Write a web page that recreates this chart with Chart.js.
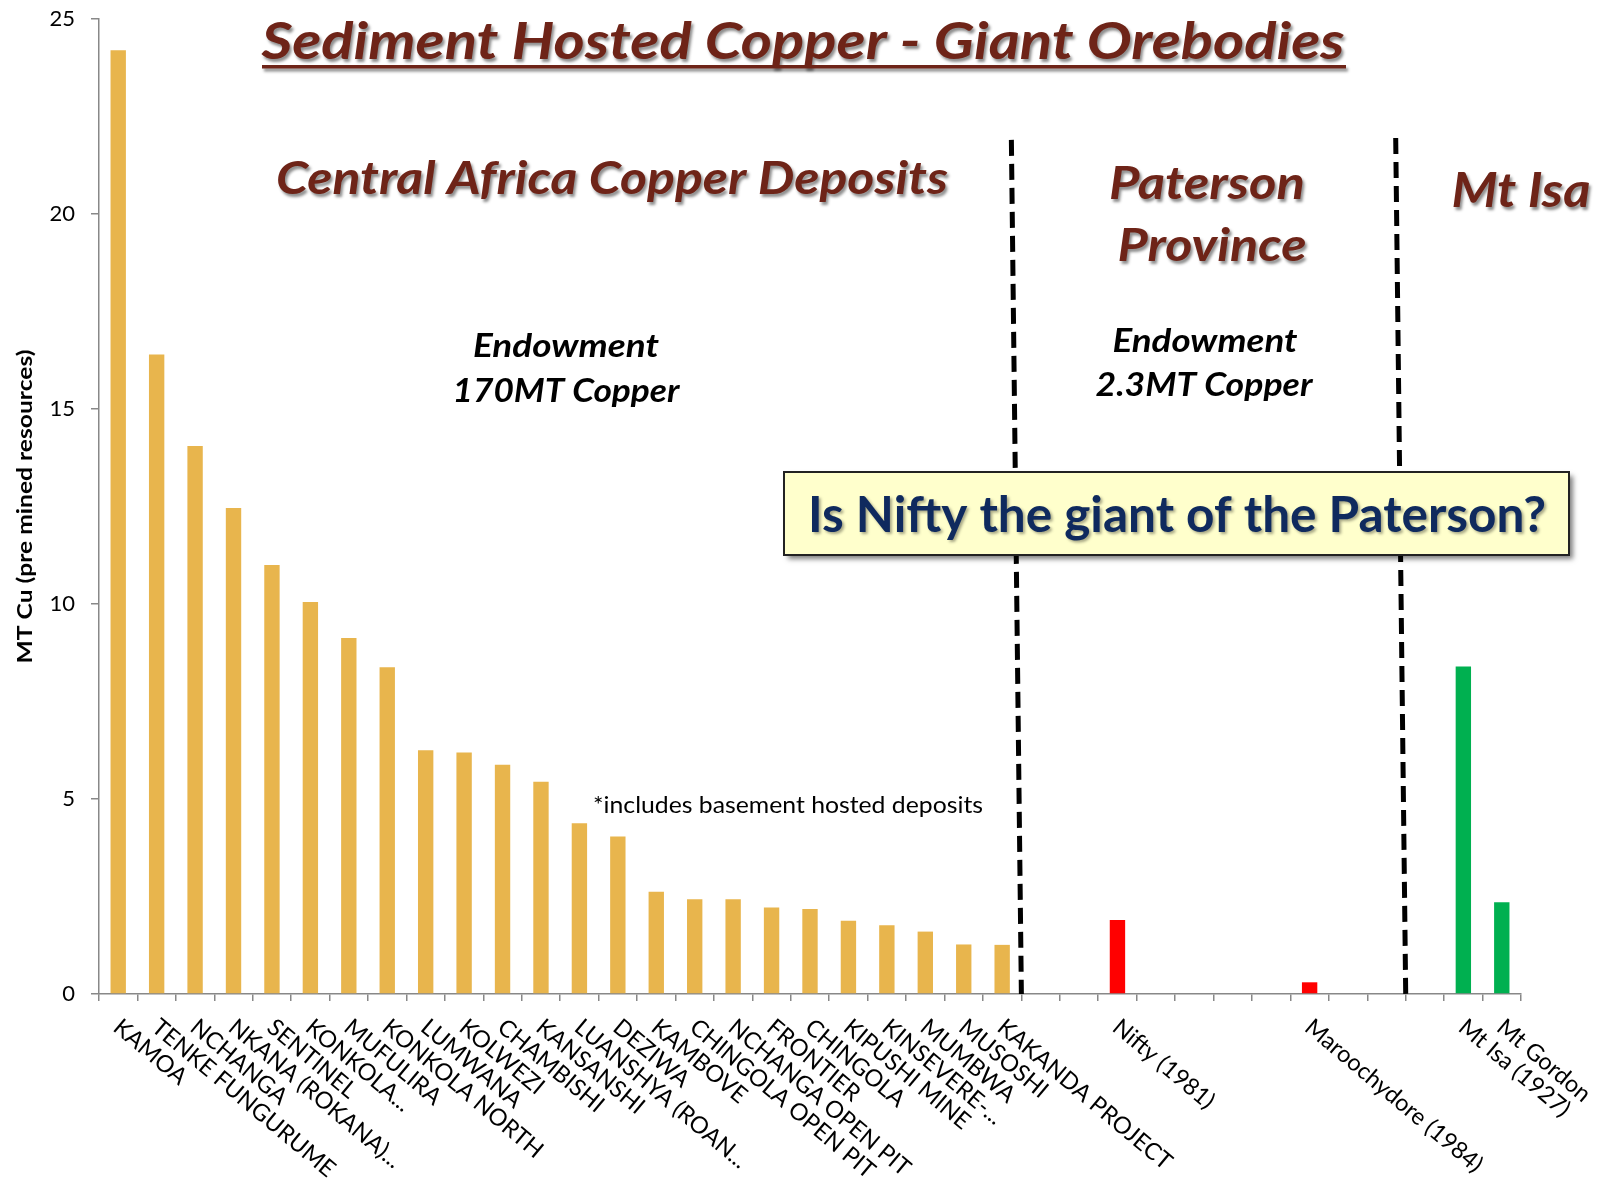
<!DOCTYPE html>
<html>
<head>
<meta charset="utf-8">
<script src="https://cdn.jsdelivr.net/npm/chart.js@4/dist/chart.umd.min.js"></script>
<style>
  html, body { margin: 0; padding: 0; background: #fff; }
</style>
</head>
<body>
<canvas id="chart" width="1603" height="1185"></canvas>
<script>
// one slot per category, '' = empty gap between the regions
const deposits = [
  "KAMOA", "TENKE FUNGURUME", "NCHANGA", "NKANA (ROKANA)...", "SENTINEL", "KONKOLA...",
  "MUFULIRA", "KONKOLA NORTH", "LUMWANA", "KOLWEZI", "CHAMBISHI", "KANSANSHI",
  "LUANSHYA (ROAN...", "DEZIWA", "KAMBOVE", "CHINGOLA OPEN PIT", "NCHANGA OPEN PIT", "FRONTIER",
  "CHINGOLA", "KIPUSHI MINE", "KINSEVERE-...", "MUMBWA", "MUSOSHI", "KAKANDA PROJECT",
  "", "", "Nifty (1981)", "", "", "", "", "Maroochydore (1984)", "", "", "", "Mt Isa (1927)", "Mt Gordon"
];

const africaCu = [
  24.2, 16.4, 14.05, 12.46, 11.0, 10.05, 9.13, 8.38, 6.25, 6.19, 5.88, 5.44,
  4.38, 4.04, 2.62, 2.43, 2.43, 2.22, 2.18, 1.88, 1.76, 1.6, 1.27, 1.26,
  null, null, null, null, null, null, null, null, null, null, null, null, null
];
const patersonCu = [
  null, null, null, null, null, null, null, null, null, null, null, null,
  null, null, null, null, null, null, null, null, null, null, null, null,
  null, null, 1.9, null, null, null, null, 0.3, null, null, null, null, null
];
const mtIsaCu = [
  null, null, null, null, null, null, null, null, null, null, null, null,
  null, null, null, null, null, null, null, null, null, null, null, null,
  null, null, null, null, null, null, null, null, null, null, null, 8.4, 2.35
];

const yTicks = [0, 5, 10, 15, 20, 25];

// region dividers: slot boundary after index, top value
const dividers = [[23, 21.9], [33, 21.95]];

const FONT = "Lato, 'Open Sans', sans-serif";

// draw text with a given cap height, squeezed/stretched to a target width
function fitText(ctx, text, cx, baseY, width, cap, style) {
  const size = cap / 0.72;
  ctx.font = style + " " + size.toFixed(1) + "px " + FONT;
  const w = ctx.measureText(text).width;
  ctx.save();
  ctx.translate(cx, baseY);
  ctx.scale(width / w, 1);
  ctx.textAlign = "center";
  ctx.textBaseline = "alphabetic";
  ctx.fillText(text, 0, 0);
  ctx.restore();
}

const overlay = {
  id: "overlay",
  afterDraw(chart) {
    const { ctx, scales: { x, y } } = chart;
    const slot = x.getPixelForValue(1) - x.getPixelForValue(0);

    // rotated category labels
    ctx.save();
    ctx.fillStyle = "#000";
    ctx.font = "23.5px " + FONT;
    ctx.textAlign = "left";
    ctx.textBaseline = "top";
    deposits.forEach((name, i) => {
      if (!name) return;
      ctx.save();
      ctx.translate(x.getPixelForValue(i) + 6, y.bottom + 21);
      ctx.rotate(40 * Math.PI / 180);
      ctx.fillText(name, 0, 0);
      ctx.restore();
    });
    ctx.restore();

    // y axis title
    ctx.save();
    ctx.fillStyle = "#000";
    ctx.translate(32, (y.top + y.bottom) / 2);
    ctx.rotate(-Math.PI / 2);
    fitText(ctx, "MT Cu (pre mined resources)", 0, 0, 314, 15, "bold");
    ctx.restore();

    // dashed dividers
    ctx.save();
    ctx.strokeStyle = "#000";
    ctx.lineWidth = 5;
    ctx.setLineDash([16, 8]);
    dividers.forEach(([idx, top]) => {
      const xb = x.getPixelForValue(idx) + slot / 2;
      ctx.beginPath();
      ctx.moveTo(xb - 10, y.getPixelForValue(top));
      ctx.lineTo(xb, y.bottom);
      ctx.stroke();
    });
    ctx.restore();

    // brown headings with soft shadow
    ctx.save();
    ctx.fillStyle = "#6E2418";
    ctx.shadowColor = "rgba(0,0,0,0.45)";
    ctx.shadowOffsetX = 2;
    ctx.shadowOffsetY = 3;
    ctx.shadowBlur = 3;
    fitText(ctx, "Sediment Hosted Copper - Giant Orebodies", 803, 59, 1083, 37, "italic bold");
    ctx.fillRect(262, 65, 1084, 3.5);
    fitText(ctx, "Central Africa Copper Deposits", 612, 194, 672, 33, "italic bold");
    fitText(ctx, "Paterson", 1207, 199, 196, 33, "italic bold");
    fitText(ctx, "Province", 1212, 261, 189, 33, "italic bold");
    fitText(ctx, "Mt Isa", 1521, 207, 139, 34, "italic bold");
    ctx.restore();

    // endowment notes
    ctx.save();
    ctx.fillStyle = "#000";
    fitText(ctx, "Endowment", 566, 357, 186, 24, "italic bold");
    fitText(ctx, "170MT Copper", 566, 402, 227, 24, "italic bold");
    fitText(ctx, "Endowment", 1205, 352, 185, 24, "italic bold");
    fitText(ctx, "2.3MT Copper", 1204, 396, 217, 24, "italic bold");
    fitText(ctx, "*includes basement hosted deposits", 788, 813, 390, 16, "normal");
    ctx.restore();

    // question box
    ctx.save();
    ctx.shadowColor = "rgba(0,0,0,0.5)";
    ctx.shadowOffsetX = 4;
    ctx.shadowOffsetY = 4;
    ctx.shadowBlur = 5;
    ctx.fillStyle = "#FFFFCC";
    ctx.fillRect(784, 472, 785, 83);
    ctx.restore();
    ctx.save();
    ctx.strokeStyle = "#222";
    ctx.lineWidth = 2;
    ctx.strokeRect(784, 472, 785, 83);
    ctx.fillStyle = "#0F2A5E";
    ctx.shadowColor = "rgba(0,0,0,0.35)";
    ctx.shadowOffsetX = 2;
    ctx.shadowOffsetY = 2;
    ctx.shadowBlur = 3;
    fitText(ctx, "Is Nifty the giant of the Paterson?", 1177, 532, 738, 36, "bold");
    ctx.restore();
  }
};

const ctx = document.getElementById("chart").getContext("2d");
new Chart(ctx, {
  type: "bar",
  data: {
    labels: deposits,
    datasets: [
      { label: "Central Africa", data: africaCu, backgroundColor: "#E8B54D" },
      { label: "Paterson Province", data: patersonCu, backgroundColor: "#FF0000" },
      { label: "Mt Isa", data: mtIsaCu, backgroundColor: "#00B050" }
    ]
  },
  options: {
    responsive: false,
    animation: false,
    layout: { padding: { left: 0, right: 82, top: 19, bottom: 0 } },
    datasets: { bar: { grouped: false, barPercentage: 0.4, categoryPercentage: 1 } },
    plugins: { legend: { display: false }, tooltip: { enabled: false } },
    scales: {
      x: {
        grid: { drawOnChartArea: false, drawTicks: true, tickLength: 7, color: "#888", lineWidth: 1.5 },
        border: { color: "#888", width: 1.5 },
        ticks: { display: false },
        afterFit: (s) => { s.height = 191; s.paddingLeft = 0; s.paddingRight = 0; }
      },
      y: {
        min: 0,
        max: 25,
        afterBuildTicks: (s) => { s.ticks = yTicks.map(v => ({ value: v })); },
        ticks: { color: "#000", padding: 16, font: { family: FONT, size: 22 } },
        grid: { drawOnChartArea: false, drawTicks: true, tickLength: 8, color: "#888", lineWidth: 1.5 },
        border: { color: "#888", width: 1.5 },
        afterFit: (s) => { s.width = 99; s.paddingTop = 0; s.paddingBottom = 0; }
      }
    }
  },
  plugins: [overlay]
});
</script>
</body>
</html>
